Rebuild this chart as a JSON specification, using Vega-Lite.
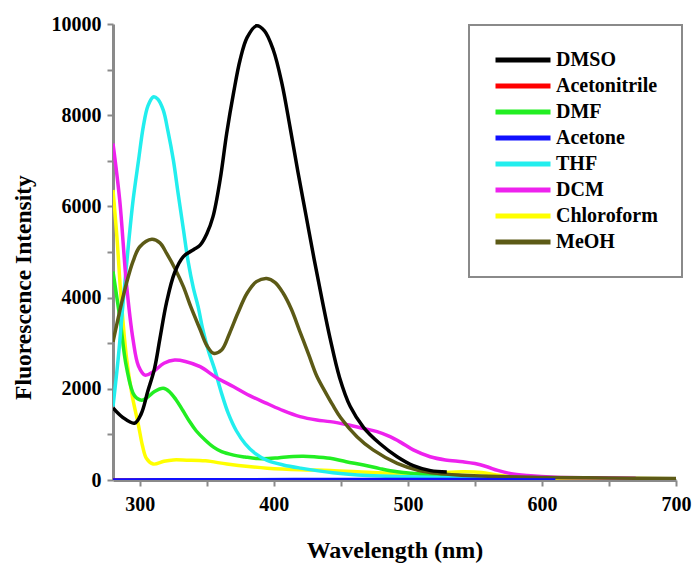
{
  "$schema": "https://vega.github.io/schema/vega-lite/v6.json",
  "width": 563,
  "height": 456,
  "autosize": "none",
  "padding": {"left": 113, "top": 24, "right": 20, "bottom": 83},
  "background": "white",
  "config": {
    "view": {"stroke": null},
    "font": "Liberation Serif",
    "legend": {"strokeWidth": 2}
  },
  "data": {
    "values": [
      {"s": "Acetonitrile", "x": 280, "y": 0}, {"s": "Acetonitrile", "x": 400, "y": 0}, {"s": "Acetonitrile", "x": 500, "y": 0}, {"s": "Acetonitrile", "x": 600, "y": 0},

      {"s": "Chloroform", "x": 280, "y": 6360}, {"s": "Chloroform", "x": 283, "y": 5300}, {"s": "Chloroform", "x": 286, "y": 4000}, {"s": "Chloroform", "x": 290, "y": 2700}, {"s": "Chloroform", "x": 294, "y": 1900}, {"s": "Chloroform", "x": 299, "y": 1200}, {"s": "Chloroform", "x": 302, "y": 750}, {"s": "Chloroform", "x": 305, "y": 470}, {"s": "Chloroform", "x": 310, "y": 350}, {"s": "Chloroform", "x": 318, "y": 410}, {"s": "Chloroform", "x": 325, "y": 440}, {"s": "Chloroform", "x": 335, "y": 435}, {"s": "Chloroform", "x": 349, "y": 420}, {"s": "Chloroform", "x": 365, "y": 350}, {"s": "Chloroform", "x": 383, "y": 290}, {"s": "Chloroform", "x": 395, "y": 260}, {"s": "Chloroform", "x": 420, "y": 225}, {"s": "Chloroform", "x": 442, "y": 210}, {"s": "Chloroform", "x": 470, "y": 170}, {"s": "Chloroform", "x": 494, "y": 140}, {"s": "Chloroform", "x": 517, "y": 145}, {"s": "Chloroform", "x": 541, "y": 180}, {"s": "Chloroform", "x": 555, "y": 165}, {"s": "Chloroform", "x": 566, "y": 110}, {"s": "Chloroform", "x": 580, "y": 70}, {"s": "Chloroform", "x": 600, "y": 45}, {"s": "Chloroform", "x": 650, "y": 35}, {"s": "Chloroform", "x": 700, "y": 30},

      {"s": "DMF", "x": 280, "y": 4570}, {"s": "DMF", "x": 285, "y": 3580}, {"s": "DMF", "x": 290, "y": 2485}, {"s": "DMF", "x": 296, "y": 1850}, {"s": "DMF", "x": 301.4, "y": 1750}, {"s": "DMF", "x": 306, "y": 1820}, {"s": "DMF", "x": 311, "y": 1940}, {"s": "DMF", "x": 317.5, "y": 2010}, {"s": "DMF", "x": 322, "y": 1940}, {"s": "DMF", "x": 327, "y": 1760}, {"s": "DMF", "x": 332, "y": 1530}, {"s": "DMF", "x": 337, "y": 1290}, {"s": "DMF", "x": 342, "y": 1080}, {"s": "DMF", "x": 348.7, "y": 877}, {"s": "DMF", "x": 355, "y": 720}, {"s": "DMF", "x": 361, "y": 620}, {"s": "DMF", "x": 370, "y": 545}, {"s": "DMF", "x": 378.5, "y": 505}, {"s": "DMF", "x": 388, "y": 470}, {"s": "DMF", "x": 396, "y": 470}, {"s": "DMF", "x": 404, "y": 490}, {"s": "DMF", "x": 414.5, "y": 515}, {"s": "DMF", "x": 422, "y": 520}, {"s": "DMF", "x": 430, "y": 510}, {"s": "DMF", "x": 442, "y": 475}, {"s": "DMF", "x": 454, "y": 400}, {"s": "DMF", "x": 467, "y": 330}, {"s": "DMF", "x": 479, "y": 250}, {"s": "DMF", "x": 492, "y": 180}, {"s": "DMF", "x": 517, "y": 110}, {"s": "DMF", "x": 550, "y": 60}, {"s": "DMF", "x": 600, "y": 30},

      {"s": "THF", "x": 280, "y": 1610}, {"s": "THF", "x": 284, "y": 2700}, {"s": "THF", "x": 287.7, "y": 3950}, {"s": "THF", "x": 291, "y": 5000}, {"s": "THF", "x": 295, "y": 6140}, {"s": "THF", "x": 299, "y": 7000}, {"s": "THF", "x": 302.6, "y": 7750}, {"s": "THF", "x": 306, "y": 8200}, {"s": "THF", "x": 310, "y": 8400}, {"s": "THF", "x": 313.5, "y": 8350}, {"s": "THF", "x": 317.5, "y": 8110}, {"s": "THF", "x": 321, "y": 7650}, {"s": "THF", "x": 325, "y": 7020}, {"s": "THF", "x": 328.5, "y": 6300}, {"s": "THF", "x": 332.5, "y": 5500}, {"s": "THF", "x": 336, "y": 4800}, {"s": "THF", "x": 340, "y": 4200}, {"s": "THF", "x": 343.5, "y": 3800}, {"s": "THF", "x": 347, "y": 3300}, {"s": "THF", "x": 351, "y": 2850}, {"s": "THF", "x": 356, "y": 2410}, {"s": "THF", "x": 361, "y": 1900}, {"s": "THF", "x": 366, "y": 1460}, {"s": "THF", "x": 372, "y": 1080}, {"s": "THF", "x": 378.5, "y": 800}, {"s": "THF", "x": 386, "y": 585}, {"s": "THF", "x": 395, "y": 430}, {"s": "THF", "x": 407, "y": 330}, {"s": "THF", "x": 420, "y": 260}, {"s": "THF", "x": 444, "y": 160}, {"s": "THF", "x": 470, "y": 100}, {"s": "THF", "x": 500, "y": 70}, {"s": "THF", "x": 550, "y": 40}, {"s": "THF", "x": 600, "y": 30},

      {"s": "DCM", "x": 280, "y": 7380}, {"s": "DCM", "x": 285, "y": 6140}, {"s": "DCM", "x": 290, "y": 4310}, {"s": "DCM", "x": 295, "y": 3070}, {"s": "DCM", "x": 299, "y": 2500}, {"s": "DCM", "x": 303.9, "y": 2300}, {"s": "DCM", "x": 310, "y": 2375}, {"s": "DCM", "x": 318, "y": 2560}, {"s": "DCM", "x": 326, "y": 2630}, {"s": "DCM", "x": 334, "y": 2600}, {"s": "DCM", "x": 345, "y": 2485}, {"s": "DCM", "x": 357, "y": 2250}, {"s": "DCM", "x": 370, "y": 2045}, {"s": "DCM", "x": 382, "y": 1850}, {"s": "DCM", "x": 394.7, "y": 1680}, {"s": "DCM", "x": 407, "y": 1520}, {"s": "DCM", "x": 419.5, "y": 1390}, {"s": "DCM", "x": 432, "y": 1315}, {"s": "DCM", "x": 442, "y": 1280}, {"s": "DCM", "x": 455, "y": 1210}, {"s": "DCM", "x": 467, "y": 1130}, {"s": "DCM", "x": 477, "y": 1060}, {"s": "DCM", "x": 486.7, "y": 950}, {"s": "DCM", "x": 495, "y": 820}, {"s": "DCM", "x": 504, "y": 660}, {"s": "DCM", "x": 516.6, "y": 510}, {"s": "DCM", "x": 528, "y": 440}, {"s": "DCM", "x": 541, "y": 400}, {"s": "DCM", "x": 550, "y": 360}, {"s": "DCM", "x": 559, "y": 290}, {"s": "DCM", "x": 567, "y": 210}, {"s": "DCM", "x": 576, "y": 145}, {"s": "DCM", "x": 589, "y": 100}, {"s": "DCM", "x": 610, "y": 60}, {"s": "DCM", "x": 640, "y": 50}, {"s": "DCM", "x": 670, "y": 40},

      {"s": "MeOH", "x": 280, "y": 3030}, {"s": "MeOH", "x": 285, "y": 3700}, {"s": "MeOH", "x": 290, "y": 4310}, {"s": "MeOH", "x": 295, "y": 4800}, {"s": "MeOH", "x": 300, "y": 5115}, {"s": "MeOH", "x": 309, "y": 5280}, {"s": "MeOH", "x": 315, "y": 5200}, {"s": "MeOH", "x": 320, "y": 4970}, {"s": "MeOH", "x": 326, "y": 4650}, {"s": "MeOH", "x": 332.5, "y": 4240}, {"s": "MeOH", "x": 338, "y": 3800}, {"s": "MeOH", "x": 345, "y": 3300}, {"s": "MeOH", "x": 350, "y": 2950}, {"s": "MeOH", "x": 355, "y": 2780}, {"s": "MeOH", "x": 361, "y": 2850}, {"s": "MeOH", "x": 367, "y": 3220}, {"s": "MeOH", "x": 373, "y": 3650}, {"s": "MeOH", "x": 380, "y": 4095}, {"s": "MeOH", "x": 387, "y": 4350}, {"s": "MeOH", "x": 394.7, "y": 4420}, {"s": "MeOH", "x": 401, "y": 4330}, {"s": "MeOH", "x": 407, "y": 4095}, {"s": "MeOH", "x": 413, "y": 3750}, {"s": "MeOH", "x": 419.5, "y": 3250}, {"s": "MeOH", "x": 426, "y": 2750}, {"s": "MeOH", "x": 432, "y": 2280}, {"s": "MeOH", "x": 438, "y": 1950}, {"s": "MeOH", "x": 444, "y": 1640}, {"s": "MeOH", "x": 450, "y": 1360}, {"s": "MeOH", "x": 462, "y": 950}, {"s": "MeOH", "x": 474, "y": 660}, {"s": "MeOH", "x": 492, "y": 365}, {"s": "MeOH", "x": 507, "y": 220}, {"s": "MeOH", "x": 522, "y": 145}, {"s": "MeOH", "x": 540, "y": 105}, {"s": "MeOH", "x": 560, "y": 80}, {"s": "MeOH", "x": 600, "y": 55}, {"s": "MeOH", "x": 650, "y": 45}, {"s": "MeOH", "x": 700, "y": 35},

      {"s": "DMSO", "x": 280, "y": 1580}, {"s": "DMSO", "x": 287, "y": 1380}, {"s": "DMSO", "x": 296, "y": 1245}, {"s": "DMSO", "x": 301, "y": 1450}, {"s": "DMSO", "x": 306, "y": 1950}, {"s": "DMSO", "x": 311, "y": 2450}, {"s": "DMSO", "x": 315, "y": 3100}, {"s": "DMSO", "x": 320, "y": 3900}, {"s": "DMSO", "x": 326, "y": 4550}, {"s": "DMSO", "x": 332.5, "y": 4900}, {"s": "DMSO", "x": 340, "y": 5050}, {"s": "DMSO", "x": 345, "y": 5150}, {"s": "DMSO", "x": 350, "y": 5400}, {"s": "DMSO", "x": 354.6, "y": 5775}, {"s": "DMSO", "x": 360, "y": 6600}, {"s": "DMSO", "x": 364.8, "y": 7600}, {"s": "DMSO", "x": 370, "y": 8500}, {"s": "DMSO", "x": 374.8, "y": 9210}, {"s": "DMSO", "x": 380, "y": 9700}, {"s": "DMSO", "x": 387, "y": 9960}, {"s": "DMSO", "x": 393, "y": 9850}, {"s": "DMSO", "x": 399.6, "y": 9430}, {"s": "DMSO", "x": 406, "y": 8700}, {"s": "DMSO", "x": 412, "y": 7750}, {"s": "DMSO", "x": 418, "y": 6750}, {"s": "DMSO", "x": 424, "y": 5800}, {"s": "DMSO", "x": 430, "y": 4850}, {"s": "DMSO", "x": 436, "y": 3950}, {"s": "DMSO", "x": 442, "y": 3100}, {"s": "DMSO", "x": 449, "y": 2250}, {"s": "DMSO", "x": 457, "y": 1610}, {"s": "DMSO", "x": 467, "y": 1150}, {"s": "DMSO", "x": 479, "y": 800}, {"s": "DMSO", "x": 492, "y": 510}, {"s": "DMSO", "x": 504, "y": 315}, {"s": "DMSO", "x": 517, "y": 205}, {"s": "DMSO", "x": 529, "y": 175},

      {"s": "Acetone", "x": 280, "y": 0}, {"s": "Acetone", "x": 350, "y": 5}, {"s": "Acetone", "x": 450, "y": 10}, {"s": "Acetone", "x": 550, "y": 10}, {"s": "Acetone", "x": 610, "y": 0}
    ]
  },
  "mark": {"type": "line", "interpolate": "catmull-rom", "strokeWidth": 3.5, "clip": true},
  "encoding": {
    "x": {
      "field": "x",
      "type": "quantitative",
      "scale": {"domain": [280, 700], "nice": false, "zero": false},
      "axis": {
        "title": "Wavelength (nm)",
        "values": [300, 350, 400, 450, 500, 550, 600, 650, 700],
        "labelExpr": "datum.value % 100 == 0 ? datum.label : ''",
        "format": "d",
        "grid": false,
        "domainColor": "#8a8a8a",
        "domainWidth": 3,
        "tickColor": "#8a8a8a",
        "tickWidth": 2,
        "tickSize": 6,
        "labelPadding": 8,
        "labelFont": "Liberation Serif",
        "labelFontWeight": "bold",
        "labelFontSize": 20,
        "labelColor": "#000000",
        "labelFlush": false,
        "labelOverlap": false,
        "titleFont": "Liberation Serif",
        "titleFontWeight": "bold",
        "titleFontSize": 24,
        "titleColor": "#000000",
        "titleBaseline": "alphabetic",
        "titleY": 77
      }
    },
    "y": {
      "field": "y",
      "type": "quantitative",
      "scale": {"domain": [0, 10000], "nice": false},
      "axis": {
        "title": "Fluorescence Intensity",
        "values": [0, 1000, 2000, 3000, 4000, 5000, 6000, 7000, 8000, 9000, 10000],
        "labelExpr": "datum.value % 2000 == 0 ? datum.label : ''",
        "format": "d",
        "grid": false,
        "domainColor": "#8a8a8a",
        "domainWidth": 3,
        "tickColor": "#8a8a8a",
        "tickWidth": 2,
        "tickSize": 6,
        "labelPadding": 6,
        "labelFont": "Liberation Serif",
        "labelFontWeight": "bold",
        "labelFontSize": 20,
        "labelColor": "#000000",
        "labelOverlap": false,
        "titleFont": "Liberation Serif",
        "titleFontWeight": "bold",
        "titleFontSize": 23.5,
        "titleColor": "#000000",
        "titleBaseline": "alphabetic",
        "titleX": -83,
        "titleY": 263
      }
    },
    "color": {
      "field": "s",
      "type": "nominal",
      "scale": {
        "domain": ["DMSO", "Acetonitrile", "DMF", "Acetone", "THF", "DCM", "Chloroform", "MeOH"],
        "range": ["#000000", "#ff0000", "#22ee22", "#1010ff", "#22eeee", "#ee22ee", "#ffff00", "#5c5a16"]
      },
      "legend": {
        "title": null,
        "orient": "none",
        "legendX": 356,
        "legendY": 1,
        "symbolType": "stroke",
        "symbolSize": 3025,
        "symbolStrokeWidth": 5,
        "symbolOffset": 0,
        "clipHeight": 22,
        "rowPadding": 4,
        "labelOffset": 3,
        "labelFont": "Liberation Serif",
        "labelFontWeight": "bold",
        "labelFontSize": 20,
        "labelColor": "#000000",
        "labelLimit": 300,
        "padding": 24,
        "strokeColor": "#8a8a8a",
        "fillColor": "white"
      }
    }
  }
}
